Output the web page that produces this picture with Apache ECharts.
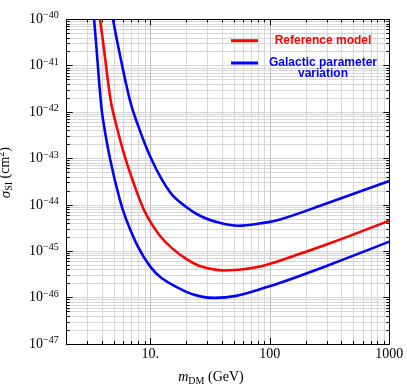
<!DOCTYPE html>
<html>
<head>
<meta charset="utf-8">
<script src="https://cdn.jsdelivr.net/npm/echarts@6/dist/echarts.min.js"></script>
<style>
html,body{margin:0;padding:0;background:#fff}
#chart{width:407px;height:386px}
</style>
</head>
<body>
<div id="chart"></div>
<script>
// 暗物质质量 (GeV) 与截面 (cm^2)
const massRef  = [3.80, 4.11, 4.66, 5.07, 6.25, 8.17, 9.48, 11.9, 15.1, 20, 26.8, 41.7, 63.5, 84.5, 124, 302, 1000]
const sigmaRef = [1e-40, 2.18e-41, 1.82e-42, 6.76e-43, 9.29e-44, 1.28e-44, 5.48e-45, 2.24e-45, 1.18e-45, 6.83e-46, 4.66e-46, 3.85e-46, 4.16e-46, 4.75e-46, 6.39e-46, 1.41e-45, 4.57e-45]

const massLow  = [3.39, 3.56, 3.85, 4.03, 4.63, 5.57, 6.32, 7.91, 10, 12.5, 20, 26.8, 34.4, 52.4, 84.5, 124, 302, 1000]
const sigmaLow = [1e-40, 2.18e-41, 1.82e-42, 6.76e-43, 9.29e-44, 1.28e-44, 4.73e-45, 1.24e-45, 4.66e-46, 2.61e-46, 1.33e-46, 1.05e-46, 9.86e-47, 1.09e-46, 1.54e-46, 2.11e-46, 4.88e-46, 1.61e-45]

const massHigh  = [4.88, 5.47, 6.75, 7.61, 10.3, 14.6, 20, 26.8, 39.4, 54.2, 84.5, 124, 302, 1000]
const sigmaHigh = [1e-40, 2.18e-41, 1.82e-42, 6.76e-43, 9.29e-44, 1.9e-44, 9.0e-45, 5.6e-45, 4.0e-45, 3.55e-45, 4.01e-45, 4.9e-45, 1.08e-44, 3.27e-44]

// 刻度（原始值）
const xMajor = [10, 100, 1000]
const xLabels = ['10.', '100', '1000']
const xMinor = [3, 4, 5, 6, 7, 8, 9, 20, 30, 40, 50, 60, 70, 80, 90, 200, 300, 400, 500, 600, 700, 800, 900]
const yExp = [-47, -46, -45, -44, -43, -42, -41, -40]
const xRange = [2, 1000]

// 对数坐标：轴用 log10 之后的线性值
const lg = Math.log10
const yMinorLog = []
yExp.slice(0, -1).forEach(e => {
    for (let k = 2; k <= 9; k++) yMinorLog.push(e + lg(k))
})

const serif = 'Liberation Serif'
const gridMinor = '#d6d6d6'
const gridMajor = '#c2c2c2'

const pairs = (xs, ys) => xs.map((x, i) => [lg(x), lg(ys[i])])

// 生成一条坐标轴（主刻度 / 次刻度，上下左右）
const makeAxis = (dir, position, ticks, len, opt = {}) => ({
    type: 'value',
    position: position,
    min: dir === 'x' ? lg(xRange[0]) : yExp[0],
    max: dir === 'x' ? lg(xRange[1]) : yExp[yExp.length - 1],
    axisLine: {show: !!opt.line, onZero: false, lineStyle: {color: '#000', width: 1}},
    axisTick: {show: true, inside: true, length: len, customValues: ticks, lineStyle: {color: '#000', width: 1}},
    axisLabel: opt.label || {show: false},
    splitLine: opt.split ? {show: true, lineStyle: {color: opt.split, width: 1}} : {show: false},
    minorTick: {show: false},
    minorSplitLine: {show: false},
    name: opt.name || '',
    nameLocation: 'middle',
    nameGap: opt.nameGap || 0,
    nameTextStyle: opt.nameStyle || {},
    silent: true
})

const xLabelCfg = {
    show: true,
    customValues: xMajor.map(lg),
    margin: 3,
    fontFamily: serif,
    fontSize: 14,
    color: '#000',
    formatter: v => xLabels[xMajor.findIndex(t => Math.abs(lg(t) - v) < 1e-6)]
}
const yLabelCfg = {
    show: true,
    customValues: yExp,
    margin: 8,
    formatter: v => '{b|10}{s|\u2212' + Math.abs(Math.round(v)) + '}',
    rich: {
        b: {fontFamily: serif, fontSize: 14, color: '#000', lineHeight: 17},
        s: {fontFamily: serif, fontSize: 10, color: '#000', lineHeight: 17, verticalAlign: 'top'}
    }
}

const lineSeries = (name, xs, ys, color, z) => ({
    name: name,
    type: 'line',
    data: pairs(xs, ys),
    symbol: 'none',
    smooth: 0.4,
    clip: true,
    z: z,
    itemStyle: {color: color},
    lineStyle: {color: color, width: 2.6}
})

const chart = echarts.init(document.getElementById('chart'))
const option = {
    animation: false,
    backgroundColor: '#fff',
    grid: {left: 66.7, top: 19.3, right: 17.7, bottom: 42, outerBoundsMode: 'none', containLabel: false},
    legend: [{
        data: ['Reference model'],
        left: 226, top: 29.7,
        icon: 'rect', itemWidth: 27, itemHeight: 3,
        selectedMode: false,
        formatter: '{a|{name}}',
        textStyle: {rich: {a: {width: 120, align: 'center', fontFamily: 'Liberation Sans', fontWeight: 'bold', fontSize: 12, color: '#ff0000', lineHeight: 14}}}
    }, {
        data: ['Galactic parameter variation'],
        left: 226, top: 43.5,
        icon: 'rect', itemWidth: 27, itemHeight: 3,
        selectedMode: false,
        formatter: () => '{e| }\n{a|Galactic parameter}\n{a|variation}',
        textStyle: {rich: {
            e: {fontSize: 8, lineHeight: 10.5},
            a: {width: 120, align: 'center', fontFamily: 'Liberation Sans', fontWeight: 'bold', fontSize: 12, color: '#0000ff', lineHeight: 10.5}
        }}
    }],
    xAxis: [
        makeAxis('x', 'bottom', xMajor.map(lg), 6, {
            line: true, label: xLabelCfg, split: gridMajor,
            name: '{i|m}{sub|DM}{t| (GeV)}', nameGap: 24,
            nameStyle: {padding: [0, 34, 0, 0], rich: {
                i: {fontFamily: serif, fontStyle: 'italic', fontSize: 14, color: '#000', lineHeight: 18},
                sub: {fontFamily: serif, fontSize: 10, color: '#000', lineHeight: 18, verticalAlign: 'bottom'},
                t: {fontFamily: serif, fontSize: 14, color: '#000', lineHeight: 18}
            }}
        }),
        makeAxis('x', 'bottom', xMinor.map(lg), 3, {split: gridMinor}),
        makeAxis('x', 'top', xMajor.map(lg), 6, {line: true}),
        makeAxis('x', 'top', xMinor.map(lg), 3)
    ],
    yAxis: [
        makeAxis('y', 'left', yExp, 6, {
            line: true, label: yLabelCfg, split: gridMinor,
            name: '{g|\u03c3}{sub|SI}{t| (cm}{sup|2}{t|)}', nameGap: 52,
            nameStyle: {padding: [0, 0, 0, 18], rich: {
                g: {fontFamily: serif, fontStyle: 'italic', fontSize: 15, color: '#000', lineHeight: 18},
                sub: {fontFamily: serif, fontSize: 10, color: '#000', lineHeight: 18, verticalAlign: 'bottom'},
                sup: {fontFamily: serif, fontSize: 10, color: '#000', lineHeight: 18, verticalAlign: 'top'},
                t: {fontFamily: serif, fontSize: 14, color: '#000', lineHeight: 18}
            }}
        }),
        makeAxis('y', 'left', yMinorLog, 3, {split: gridMinor}),
        makeAxis('y', 'right', yExp, 6, {line: true}),
        makeAxis('y', 'right', yMinorLog, 3)
    ],
    series: [
        lineSeries('Reference model', massRef, sigmaRef, '#ff0000', 4),
        lineSeries('Galactic parameter variation', massLow, sigmaLow, '#0000ff', 3),
        lineSeries('Galactic parameter variation', massHigh, sigmaHigh, '#0000ff', 3)
    ]
}
chart.setOption(option)
</script>
</body>
</html>
